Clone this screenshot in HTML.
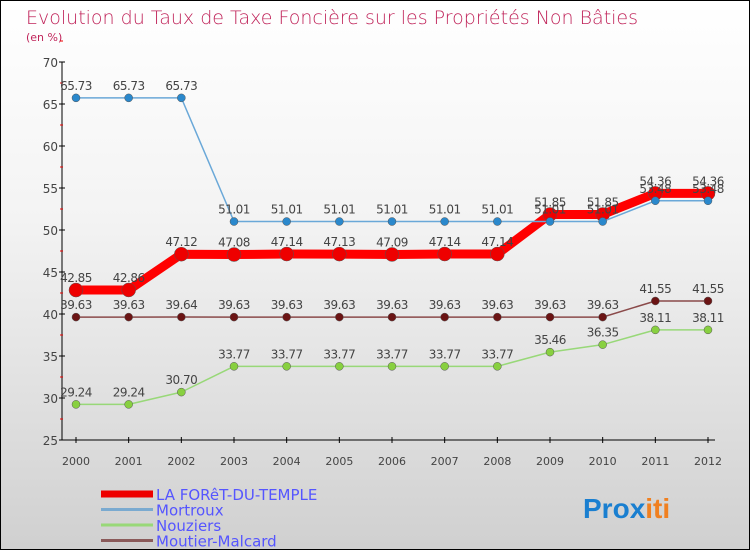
<!DOCTYPE html>
<html><head><meta charset="utf-8"><style>
body{margin:0}
#c{width:748px;height:548px;border:1px solid #000;background:linear-gradient(#fff,#f3f3f3 40%,#d0d0d0);position:relative;font-family:"DejaVu Sans","Liberation Sans",sans-serif;overflow:hidden}
</style></head><body>
<div id="c">
<svg id="s" width="748" height="548">
<text x="25" y="23" font-size="19" fill="#c0245a" font-weight="200">Evolution du Taux de Taxe Foncière sur les Propriétés Non Bâties</text>
<text x="25" y="40" font-size="11" fill="#c0245a">(en %)</text>
<g id="axes"></g><g id="series"></g><g id="legend"></g>
<text x="582" y="517" font-size="28" font-family="Liberation Sans" font-weight="bold"><tspan fill="#1a7fd0">Pro</tspan><tspan fill="#1a7fd0">x</tspan><tspan fill="#f08020">iti</tspan></text>
</svg></div>
<script>
const years=[2000,2001,2002,2003,2004,2005,2006,2007,2008,2009,2010,2011,2012];
const foret=[42.85,42.86,47.12,47.08,47.14,47.13,47.09,47.14,47.14,51.85,51.85,54.36,54.36];
const mortroux=[65.73,65.73,65.73,51.01,51.01,51.01,51.01,51.01,51.01,51.01,51.01,53.48,53.48];
const nouziers=[29.24,29.24,30.7,33.77,33.77,33.77,33.77,33.77,33.77,35.46,36.35,38.11,38.11];
const moutier=[39.63,39.63,39.64,39.63,39.63,39.63,39.63,39.63,39.63,39.63,39.63,41.55,41.55];
const yTicks=[25,30,35,40,45,50,55,60,65,70];
const NS="http://www.w3.org/2000/svg";
const X=i=>75+i*(707-75)/12, Y=v=>439-(v-25)*(378/45);
function mk(p,t,a){const e=document.createElementNS(NS,t);for(const k in a)e.setAttribute(k,a[k]);p.appendChild(e);return e;}
const ax=document.getElementById('axes');
let e=mk(ax,'line',{x1:61,y1:61,x2:61,y2:439,stroke:'#000'});

e=mk(ax,'line',{x1:61,y1:439,x2:714,y2:439,stroke:'#000'});

yTicks.forEach(v=>{mk(ax,'line',{x1:58,x2:64,y1:Y(v),y2:Y(v),stroke:'#000'});
 mk(ax,'line',{x1:59,x2:62,y1:Y(v+2.5),y2:Y(v+2.5),stroke:'#e00'});
 const t=mk(ax,'text',{x:57,y:Y(v)+5,'font-size':12,fill:'#444','text-anchor':'end'});t.textContent=v;
 });
years.forEach((y,i)=>{mk(ax,'line',{x1:X(i),x2:X(i),y1:436,y2:442,stroke:'#000'});
 const t=mk(ax,'text',{x:X(i),y:464,'font-size':11,fill:'#444','text-anchor':'middle'});t.textContent=y;
 });
const sg=document.getElementById('series');
function series(name,data,col,w,r,dot){
 const g=mk(sg,'g',{});
 mk(g,'polyline',{points:data.map((v,i)=>X(i)+','+Y(v)).join(' '),fill:'none',stroke:col,'stroke-width':w,'stroke-linejoin':'round'});
 data.forEach((v,i)=>{const c=mk(g,'circle',{cx:X(i),cy:Y(v),r:r,fill:dot,stroke:'#555','stroke-width':0.5});
  
  const t=mk(g,'text',{x:X(i),y:Y(v)-8,'font-size':12,fill:'#444','text-anchor':'middle','letter-spacing':'-0.5'});t.textContent=v.toFixed(2);
  });
}
series('series-moutier-malcard',moutier,'#8a4a4a',1.5,4,'#6b1414');
series('series-nouziers',nouziers,'#98d878',1.5,4,'#88d040');
series('series-foret-du-temple',foret,'#f00',9,7,'#e00');
series('series-mortroux',mortroux,'#6aa8d8',1.5,4,'#2a88cc');
const lg=document.getElementById('legend');
[['LA FORêT-DU-TEMPLE','#e00',7],['Mortroux','#7aaad0',3],['Nouziers','#98d878',3],['Moutier-Malcard','#8a5a5a',3]].forEach((d,i)=>{
 const y=493+i*15.5;
 const g=mk(lg,'g',{});
 mk(g,'line',{x1:100,x2:152,y1:y,y2:y,stroke:d[1],'stroke-width':d[2]});
 const t=mk(g,'text',{x:155,y:y+6,'font-size':15,fill:'#5555ff'});t.textContent=d[0];});
</script></body></html>
